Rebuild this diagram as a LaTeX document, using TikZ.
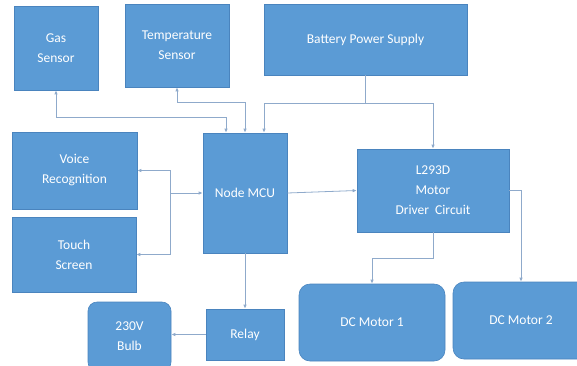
\documentclass[tikz,border=0pt]{standalone}
\usepackage{fontspec}
\setmainfont{Carlito}
\usetikzlibrary{arrows.meta, positioning, calc}
\definecolor{BoxBlue}{HTML}{5B9BD5}
\definecolor{BoxEdge}{HTML}{4A84BE}
\definecolor{LinkBlue}{HTML}{8FAACB}

\begin{document}
\begin{tikzpicture}[
        x=1pt, y=-1pt,
        font=\fontsize{13.5}{20}\selectfont,
        blk/.style={draw=BoxEdge, fill=BoxBlue, line width=0.6pt, text=white,
                    align=center, inner sep=0pt},
        rblk/.style={blk, rounded corners=9pt},
        a/.style={-{Latex[length=4pt, width=3.5pt]}, line width=0.8pt, draw=LinkBlue},
        da/.style={{Latex[length=4pt, width=3.5pt]}-{Latex[length=4pt, width=3.5pt]},
                   line width=0.8pt, draw=LinkBlue},
      ]
        \clip (0,0) rectangle (577,365);
        % top row: sensors and supply
        \node[blk, minimum width=84pt, minimum height=84pt] (gas) at (56,48) {Gas\\Sensor};
        \node[blk, minimum width=104pt, minimum height=83pt] (temp) at (177,45.5) {Temperature\\Sensor};
        \node[blk, minimum width=203pt, minimum height=71pt] (bat) at (365.5,39.5) {Battery Power Supply};
        % controller and driver
        \node[blk, minimum width=84pt, minimum height=120pt] (mcu) at (245,193) {Node MCU};
        \node[blk, minimum width=152pt, minimum height=83pt] (drv) at (433,190.5) {L293D\\Motor\\Driver~ Circuit};
        % user side
        \node[blk, minimum width=125pt, minimum height=77pt] (voice) at (74.5,170.5) {Voice\\Recognition};
        \node[blk, minimum width=124pt, minimum height=75pt] (touch) at (74,254.5) {Touch\\Screen};
        % bottom row
        \node[rblk, minimum width=83pt, minimum height=69pt] (bulb) at (129.5,336.5) {230V\\Bulb};
        \node[blk, minimum width=78pt, minimum height=51pt] (relay) at (245,334.5) {Relay};
        \node[rblk, rounded corners=11pt, minimum width=146pt, minimum height=77pt] (m1) at (372,322.5) {DC Motor 1};
        \node[rblk, rounded corners=11pt, minimum width=136pt, minimum height=77pt] (m2) at (521,320.5) {DC Motor 2};
        % sensor links
        \draw[da] (gas.south) -- ++(0,27) -| ([xshift=-19pt]mcu.north);
        \draw[da] (temp.south) -- ++(0,15) -| (mcu.north);
        % power
        \draw[a] (bat.south) -- ++(0,28) -| ([xshift=19pt]mcu.north);
        \draw[a] (bat.south) -- ++(0,28) -| (drv.north);
        % voice / touch hub
        \coordinate (hub) at ([xshift=-32pt]mcu.west);
        \draw[a] (hub) -- (mcu.west);
        \draw[a] (hub) |- (voice.east);
        \draw[a] (hub) |- (touch.east);
        % outputs
        \draw[a] (mcu.east) -- (drv.west);
        \draw[a] (mcu.south) -- (relay.north);
        \draw[a] (relay.west) -- (relay.west -| bulb.east);
        \draw[a] (drv.south) -- ++(0,26) -| (m1.north);
        \draw[a] (drv.east) -| (m2.north);
      \end{tikzpicture}
\end{document}
